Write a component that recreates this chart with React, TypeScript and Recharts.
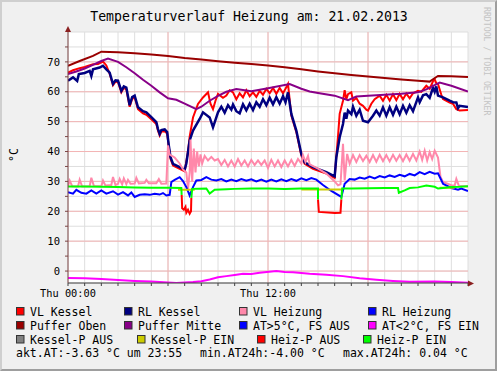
import React from "react";
import { CartesianGrid, Line, LineChart, ReferenceLine, XAxis, YAxis } from "recharts";

type Pt = [number, number | null];

// time axis in hours (Thu 00:00 .. Fri 00:00)
const hourTicks = [0, 1, 2, 3, 4, 5, 6, 7, 8, 9, 10, 11, 12, 13, 14, 15, 16, 17, 18, 19, 20, 21, 22, 23, 24];
const majorHours = [6, 12, 18];
const hourLabels: Record<number, string> = { 0: "Thu 00:00", 12: "Thu 12:00" };
const tempTicks = [0, 5, 10, 15, 20, 25, 30, 35, 40, 45, 50, 55, 60, 65, 70, 75];
const majorTemps = [0, 10, 20, 30, 40, 50, 60, 70];

const vlKessel: Pt[] = [
  [0, 66.4], [0.3, 67.2], [0.7, 67.9], [1, 68.3], [1.5, 69.2], [1.8, 69.3], [2.1, 70.1], [2.3, 68.8], [2.5, 66],
  [2.7, 62.2], [2.85, 63.4], [3, 63.2], [3.2, 59.8], [3.35, 61.3], [3.5, 60.8], [3.7, 55], [3.85, 57.6], [4, 58.1],
  [4.2, 54.2], [4.5, 52.8], [4.7, 52.3], [5, 50.8], [5.3, 49.2], [5.4, 47], [5.5, 45.4], [5.6, 46.7], [5.8, 46.8],
  [5.95, 46], [6.05, 41.5], [6.15, 37.6], [6.3, 35.3], [6.7, 34.2], [7, 33.4], [7.05, 35], [7.2, 40], [7.3, 45],
  [7.5, 51.4], [7.8, 55.9], [8.1, 58.1], [8.4, 59.8], [8.55, 56], [8.7, 54.2], [8.85, 57], [9, 59.3], [9.3, 58],
  [9.5, 58.7], [9.7, 60.5], [9.9, 59.8], [10.1, 57.5], [10.3, 59.5], [10.5, 58.1], [10.7, 60.5], [10.9, 58.5],
  [11.1, 59.8], [11.3, 58.3], [11.5, 60.3], [11.7, 59], [11.9, 61], [12.1, 59.5], [12.3, 61.3], [12.5, 59.3],
  [12.7, 61.3], [12.9, 59.5], [13.05, 61], [13.2, 62.6], [13.4, 52], [13.7, 46.5], [14, 38.7], [14.2, 35.9],
  [14.7, 34.2], [15.5, 32.6], [16, 31.2], [16.05, 35], [16.2, 45], [16.3, 52.6], [16.5, 57], [16.6, 60.5],
  [16.7, 57.5], [16.8, 59.2], [17, 59.8], [17.1, 57], [17.3, 57.9], [17.5, 56], [17.7, 55.3], [17.9, 54],
  [18, 53.7], [18.2, 56], [18.4, 57.5], [18.7, 58.7], [18.9, 57], [19.1, 59], [19.3, 57], [19.5, 59.2],
  [19.7, 57.2], [19.9, 59.3], [20.1, 57.5], [20.3, 59.4], [20.5, 57.8], [20.7, 59.5], [21, 60.3], [21.2, 60],
  [21.5, 62], [21.7, 61], [21.9, 63.5], [22, 64.2], [22.1, 62.8], [22.2, 62.6], [22.4, 59], [22.5, 57.6],
  [22.9, 56.4], [23.1, 56], [23.3, 54.2], [23.5, 53.7], [24, 53.9],
];

const rlKessel: Pt[] = [
  [0, 63.7], [0.3, 64.8], [0.55, 63.6], [0.65, 65.9], [1, 66.3], [1.3, 67], [1.4, 65.3], [1.5, 67.5], [1.9, 68.1],
  [2.1, 68.7], [2.3, 67.5], [2.5, 66.4], [2.7, 62.6], [2.85, 63.8], [3, 63.7], [3.2, 60.3], [3.35, 61.8], [3.5, 61.4],
  [3.7, 55.5], [3.85, 58.2], [4, 58.7], [4.2, 54.8], [4.5, 53.5], [4.7, 53.1], [5, 51.5], [5.3, 49.8], [5.4, 47.5],
  [5.5, 45.9], [5.6, 47.2], [5.8, 47.4], [5.95, 46.5], [6.05, 42], [6.15, 38.1], [6.3, 35.9], [6.7, 34.8], [7, 33.9],
  [7.1, 36], [7.3, 43.7], [7.5, 47], [7.9, 50.9], [8.1, 53.1], [8.5, 51.4], [8.7, 48.1], [9, 53.1], [9.2, 55],
  [9.4, 53], [9.6, 55.5], [9.8, 54], [9.9, 55.7], [10.1, 53.5], [10.3, 52.8], [10.5, 55.8], [10.7, 53.8], [10.9, 56],
  [11.1, 53.9], [11.3, 56.5], [11.5, 55], [11.7, 57.5], [11.9, 55.5], [12.1, 58], [12.3, 55.8], [12.5, 58.2],
  [12.7, 56], [12.9, 58.5], [13.05, 56.5], [13.2, 59.8], [13.4, 52.6], [13.7, 47], [14, 39.2], [14.2, 36.4],
  [14.7, 34.8], [15.5, 33.1], [16, 31.7], [16.1, 38.1], [16.3, 44.8], [16.5, 49.2], [16.6, 53], [16.7, 51],
  [16.8, 53.7], [17, 52.5], [17.1, 55], [17.3, 52], [17.5, 54], [17.7, 50.3], [18, 49.8], [18.3, 52], [18.5, 53.7],
  [18.7, 52], [18.9, 54.8], [19.1, 52], [19.3, 54.8], [19.5, 52.3], [19.7, 55], [19.9, 52.5], [20.1, 55.3],
  [20.3, 53], [20.5, 55.5], [20.7, 53.5], [21, 58.1], [21.1, 56.5], [21.3, 58.8], [21.5, 59.2], [21.7, 58],
  [21.9, 61.4], [22, 60], [22.1, 61.8], [22.2, 58.7], [22.5, 58.1], [22.9, 57], [23.1, 56.5], [23.3, 56.4],
  [23.4, 54.5], [23.5, 55.3], [24, 54.9],
];

const vlHeizung: Pt[] = [
  [0, 28.5], [0.1, 30.3], [0.25, 28.4], [0.6, 28.3], [0.7, 30.6], [0.85, 28.3], [1.3, 28.4], [1.4, 31.2], [1.55, 28.5],
  [2, 28.4], [2.1, 30.3], [2.25, 28.6], [2.6, 28.8], [2.7, 31.5], [2.85, 28.8], [3, 29.2], [3.1, 30.8], [3.25, 29],
  [3.35, 31], [3.5, 29.1], [3.6, 30.5], [3.75, 29.2], [4, 29.3], [4.1, 31.2], [4.25, 29.3], [4.6, 29.5], [4.7, 30.5],
  [4.85, 29.4], [5.3, 29.4], [5.45, 30.8], [5.6, 29.2], [5.9, 29.3], [6, 42], [6.1, 39], [6.4, 38], [6.7, 36],
  [6.9, 34], [7.1, 33], [7.2, 27.5], [7.3, 33], [7.35, 44], [7.45, 30], [7.55, 41], [7.65, 33], [7.75, 40],
  [7.85, 35], [7.95, 39], [8.05, 36], [8.2, 38.5], [8.4, 37], [8.6, 38.2], [8.8, 37], [9, 37.5], [9.2, 35.5],
  [9.4, 37.2], [9.6, 35], [9.8, 37], [10, 35], [10.2, 37.5], [10.4, 35.3], [10.6, 37], [10.8, 35], [11, 37.2],
  [11.2, 35.5], [11.4, 37], [11.6, 35.5], [11.8, 37], [12, 34.5], [12.2, 37.2], [12.4, 35], [12.6, 37], [12.8, 34.8],
  [13, 37], [13.2, 35], [13.4, 37.2], [13.6, 35.2], [13.8, 37.5], [14, 36], [14.1, 38.8], [14.25, 36.5], [14.4, 38.5],
  [14.5, 35.7], [15, 34.3], [15.5, 32.6], [16, 30], [16.2, 28.7], [16.35, 29], [16.5, 42.6], [16.6, 30.3],
  [16.75, 39.2], [16.9, 35.9], [17.1, 38.8], [17.3, 36.5], [17.5, 38.8], [17.7, 36.8], [17.9, 38.6], [18.1, 36.5],
  [18.3, 38.8], [18.5, 36.6], [18.7, 38.9], [18.9, 36.8], [19.1, 38.8], [19.3, 36.7], [19.5, 38.9], [19.7, 36.9],
  [19.9, 38.8], [20.1, 36.8], [20.3, 39], [20.5, 36.9], [20.7, 39.2], [20.9, 37], [21.1, 40], [21.25, 37.2],
  [21.4, 40.3], [21.55, 37], [21.7, 39.8], [21.85, 37.5], [22, 40.3], [22.2, 38], [22.35, 31.5], [22.5, 29.8],
  [23, 28.7], [23.2, 28.6], [23.3, 30.8], [23.45, 28.5], [24, 28.3],
];

const rlHeizung: Pt[] = [
  [0, 26.4], [0.3, 25.9], [0.5, 27.2], [0.8, 26.2], [1.1, 25.9], [1.4, 27], [1.7, 25.9], [2, 27], [2.3, 25.9],
  [2.7, 26.7], [3, 25.6], [3.3, 26.4], [3.6, 25.3], [3.8, 26.3], [4, 24.8], [4.3, 25.5], [4.6, 25.7], [4.9, 25.5],
  [5.2, 25.9], [5.5, 25.6], [5.7, 26.1], [5.9, 25.3], [6.1, 25.5], [6.2, 29.8], [6.4, 30.5], [6.7, 31.4],
  [6.9, 30.1], [7.1, 28.1], [7.3, 25.3], [7.5, 28.1], [7.7, 30.3], [8, 30.5], [8.3, 31.4], [8.6, 30.6], [8.9, 30.3],
  [9.2, 30.8], [9.5, 30], [9.8, 30.6], [10.1, 30.1], [10.4, 30.8], [10.7, 30.2], [11, 30.7], [11.3, 30], [11.6, 30.6],
  [11.9, 29.9], [12.2, 30.6], [12.5, 30], [12.8, 30.7], [13.1, 30.1], [13.4, 30.8], [13.7, 30.2], [14, 31], [14.3, 30.4],
  [14.6, 31.1], [14.9, 30.6], [15.3, 28.8], [15.8, 26.8], [16.4, 24.8], [16.6, 29.2], [16.9, 30.8], [17.2, 30.6],
  [17.5, 31.3], [17.8, 30.9], [18.1, 31.6], [18.4, 31], [18.7, 31.8], [19, 31.3], [19.3, 32], [19.6, 31.5],
  [19.9, 32.2], [20.2, 31.7], [20.5, 32.5], [20.8, 32], [21.1, 33.1], [21.4, 32.4], [21.7, 33.2], [22, 32.6],
  [22.2, 32.7], [22.5, 29.2], [23, 27.8], [23.4, 27.2], [23.6, 27.6], [24, 26.8],
];

const pufferOben: Pt[] = [
  [0, 68.7], [0.7, 70.3], [1.5, 72], [2, 73.4], [3, 73.2], [4, 72.9], [5, 72.5], [6, 72], [7, 71.3], [8, 70.8],
  [9, 70.2], [10, 69.7], [11, 69.3], [12, 68.8], [13, 68.2], [14, 67.5], [15, 66.8], [16, 66.2], [17, 65.6],
  [18, 65.1], [19, 64.6], [20, 64.1], [21, 63.7], [21.7, 63.4], [21.9, 64.2], [22.2, 65.3], [23, 65.2], [24, 64.9],
];

const pufferMitte: Pt[] = [
  [0, 65.9], [0.5, 66.8], [1, 67.8], [1.5, 69], [2, 70.3], [2.4, 71.1], [3, 70], [3.5, 68.2], [4, 66.2], [4.5, 64],
  [5, 62], [5.5, 59.8], [6, 57.8], [6.5, 57.3], [7, 56], [7.7, 54.2], [8, 55], [8.5, 57], [9, 58.6], [9.5, 60],
  [10.1, 60.9], [11, 60.2], [12, 61.2], [13.3, 62.6], [14, 61], [14.5, 60.1], [15, 59.6], [16, 58.7], [16.8, 57.2],
  [17.3, 58.4], [18, 58.7], [19, 59], [20, 59.3], [21, 59.8], [21.5, 60.8], [22.3, 63.1], [23, 62], [24, 60.1],
];

const aussen: Pt[] = [
  [0, -2.3], [1, -2.4], [2, -2.7], [3, -3], [4, -3.3], [5, -3.5], [6, -3.8], [6.5, -4], [7.5, -3.7], [8, -3.4],
  [8.5, -2.8], [9, -2.1], [9.5, -1.7], [10, -1.3], [10.5, -0.9], [11, -1], [11.5, -0.6], [12.5, 0], [13, -0.3],
  [13.5, -0.4], [14.5, -0.9], [15.5, -1.2], [16.5, -1.7], [17.5, -2.4], [18.5, -2.9], [19.5, -3.3], [20.5, -3.6],
  [22, -3.5], [23, -3.7], [24, -3.9],
];

const kesselPEin: Pt[] = [
  [6.6, 27.2], [7.6, 27.2], [7.61, null], [14, 27.3], [16.4, 27.3], [16.41, null], [22.3, 27.9], [23.2, 27.9],
];

const heizPAus: Pt[] = [
  [6.82, 25.5], [6.85, 21], [6.95, 20.5], [7.05, 21.5], [7.1, 19.5], [7.2, 20.5], [7.3, 19.2], [7.38, 20], [7.4, 24.5],
  [7.41, null], [15, 24], [15.05, 19.8], [16, 19.4], [16.35, 19.5], [16.4, 24],
];

const heizPEin: Pt[] = [
  [0, 28.3], [1, 28.3], [2, 28.2], [3, 28.1], [4, 28], [5, 27.9], [6, 27.9], [6.8, 27.8], [6.82, 25.5], [6.83, null],
  [7.4, 24.5], [7.45, 27.5], [8.3, 27.6], [8.5, 25.9], [8.8, 27.2], [9.5, 27.4], [10, 27.5], [11, 27.6], [12, 27.6],
  [13, 27.5], [14, 27.6], [15, 27.6], [15, 24], [15.01, null], [16.4, 24], [16.45, 27.6], [17, 27.6], [18, 27.7],
  [19, 27.8], [19.8, 27.8], [19.85, 26.2], [20.2, 27], [20.5, 27.8], [21, 28], [21.5, 28.6], [22, 28.2], [22.2, 27.6],
  [22.5, 27.8], [23, 28.1], [23.5, 28.2], [24, 28.4],
];

const legendLabels = [
  ["VL Kessel", "RL Kessel", "VL Heizung", "RL Heizung"],
  ["Puffer Oben", "Puffer Mitte", "AT>5°C, FS AUS", "AT<2°C, FS EIN"],
  ["Kessel-P AUS", "Kessel-P EIN", "Heiz-P AUS", "Heiz-P EIN"],
];
const legendColors = [
  ["#ff0000", "#000080", "#ff88aa", "#0000ff"],
  ["#990000", "#880088", "#0000ff", "#ff00ff"],
  ["#808080", "#cccc00", "#ff0000", "#00ff00"],
];
const statusTexts = ["akt.AT:-3.63 °C um 23:55", "min.AT24h:-4.00 °C", "max.AT24h: 0.04 °C"];

// layout
const W = 497;
const H = 371;
const FONT = '"DejaVu Sans Mono", "Liberation Mono", monospace';
const legendX = [
  [16, 124, 239, 368],
  [16, 124, 239, 368],
  [16, 137, 257, 363],
];
const legendBase = [315.5, 329.5, 343.5];
const statusX = [16, 200, 343];

const rows = (pts: Pt[]) => pts.map(([t, v]) => ({ t, v }));

const series: { pts: Pt[]; color: string; width: number }[] = [
  { pts: vlKessel, color: "#ff0000", width: 2 },
  { pts: rlKessel, color: "#000080", width: 2.5 },
  { pts: vlHeizung, color: "#ff88aa", width: 2 },
  { pts: rlHeizung, color: "#0000ff", width: 2 },
  { pts: pufferOben, color: "#990000", width: 2 },
  { pts: pufferMitte, color: "#880088", width: 2 },
  { pts: aussen, color: "#ff00ff", width: 2 },
  { pts: kesselPEin, color: "#cccc00", width: 2 },
  { pts: heizPAus, color: "#ff0000", width: 2 },
  { pts: heizPEin, color: "#00ff00", width: 2 },
];

export default function App() {
  return (
    <div style={{ position: "absolute", left: 0, top: 0, width: W, height: H, background: "#f0f0f0", overflow: "hidden" }}>
      <LineChart width={W} height={H} margin={{ top: 32, right: 29, bottom: 0, left: 0 }} style={{ position: "absolute", left: 0, top: 0 }}>
        <CartesianGrid fill="#ffffff" stroke="#dedede" />
        {majorHours.map((h) => (
          <ReferenceLine key={`mx${h}`} x={h} stroke="#f3b4b4" />
        ))}
        {majorTemps.map((v) => (
          <ReferenceLine key={`my${v}`} y={v} stroke="#f3b4b4" />
        ))}
        <XAxis
          dataKey="t"
          type="number"
          domain={[0, 24]}
          ticks={hourTicks}
          interval={0}
          allowDataOverflow
          height={88}
          tickSize={3}
          tickMargin={4}
          stroke="#404040"
          tick={{ fill: "#000", fontSize: 10.3, fontFamily: FONT }}
          tickFormatter={(v) => hourLabels[Number(v)] ?? ""}
        />
        <YAxis
          type="number"
          domain={[-4, 80]}
          ticks={tempTicks}
          interval={0}
          allowDataOverflow
          width={68}
          tickSize={3}
          tickMargin={5}
          stroke="#7a4444"
          tick={{ fill: "#000", fontSize: 10.5, fontFamily: FONT }}
          tickFormatter={(v) => (Number(v) % 10 === 0 ? String(v) : "")}
        />
        {series.map((s, i) => (
          <Line
            key={i}
            data={rows(s.pts)}
            dataKey="v"
            type="linear"
            stroke={s.color}
            strokeWidth={s.width}
            dot={false}
            activeDot={false}
            connectNulls={false}
            isAnimationActive={false}
          />
        ))}
      </LineChart>
      <svg width={W} height={H} style={{ position: "absolute", left: 0, top: 0 }} fontFamily={FONT}>
        <text x={249} y={21} textAnchor="middle" fontSize={13.2} fill="#000">
          Temperaturverlauf Heizung am: 21.02.2013
        </text>
        <text transform="translate(18,155) rotate(-90)" textAnchor="middle" fontSize={11.5} fill="#000">
          °C
        </text>
        <text transform="translate(483.5,7) rotate(90)" fontSize={8.2} fill="#c4c4c4">
          RRDTOOL / TOBI OETIKER
        </text>
        <polygon points="65,32 71,32 68,26" fill="#8b2020" />
        <polygon points="468,280.5 468,286.5 474,283.5" fill="#8b2020" />
        {legendLabels.map((row, r) =>
          row.map((label, c) => (
            <g key={`${r}-${c}`}>
              <rect x={legendX[r][c] + 0.5} y={legendBase[r] - 8} width={7.5} height={7.5} fill={legendColors[r][c]} stroke="#333" strokeWidth={1} />
              <text x={legendX[r][c] + 14} y={legendBase[r]} fontSize={11.5} fill="#000">
                {label}
              </text>
            </g>
          ))
        )}
        {statusTexts.map((s, i) => (
          <text key={s} x={statusX[i]} y={357} fontSize={11.5} fill="#000">
            {s}
          </text>
        ))}
      </svg>
      <div
        style={{
          position: "absolute",
          inset: 0,
          boxSizing: "border-box",
          borderTop: "2px solid #cfcfcf",
          borderLeft: "2px solid #cfcfcf",
          borderBottom: "2px solid #9e9e9e",
          borderRight: "2px solid #9e9e9e",
          pointerEvents: "none",
        }}
      />
    </div>
  );
}
